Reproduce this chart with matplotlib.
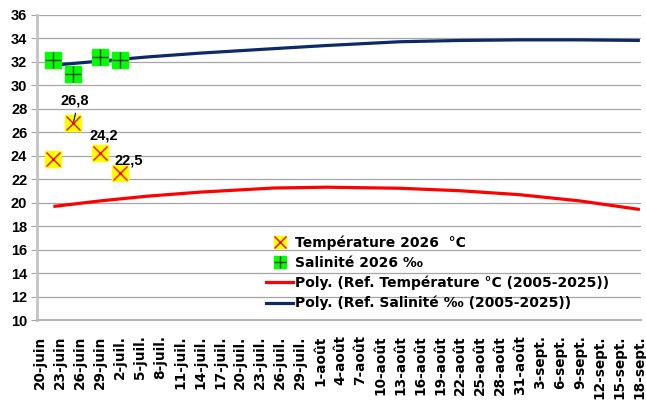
import numpy as np
import pandas as pd
import matplotlib
matplotlib.use('Agg')
import matplotlib.pyplot as plt
from matplotlib.lines import Line2D
from matplotlib.legend_handler import HandlerTuple

# ------------------------------------------------------------
# Données
# ------------------------------------------------------------
dates_mesures = ['2026-06-22', '2026-06-25', '2026-06-29', '2026-07-02']
temperature_2026 = [23.7, 26.8, 24.2, 22.5]
salinite_2026 = [32.2, 31.0, 32.4, 32.2]
etiquettes_temp = ['', '26,8', '24,2', '22,5']

# courbes de tendance (Poly.)
dates_ref = ['2026-06-22', '2026-06-29', '2026-07-06', '2026-07-14', '2026-07-25',
             '2026-08-02', '2026-08-13', '2026-08-22', '2026-08-31', '2026-09-09',
             '2026-09-18']
ref_temperature = [19.68, 20.15, 20.55, 20.90, 21.25, 21.32, 21.23, 21.02, 20.68, 20.15, 19.42]
ref_salinite = [31.72, 32.07, 32.42, 32.75, 33.13, 33.40, 33.72, 33.83, 33.88, 33.88, 33.83]

etiquettes_x = ['20-juin', '23-juin', '26-juin', '29-juin', '2-juil.', '5-juil.', '8-juil.',
                '11-juil.', '14-juil.', '17-juil.', '20-juil.', '23-juil.', '26-juil.',
                '29-juil.', '1-août', '4-août', '7-août', '10-août', '13-août', '16-août',
                '19-août', '22-août', '25-août', '28-août', '31-août', '3-sept.', '6-sept.',
                '9-sept.', '12-sept.', '15-sept.', '18-sept.']

plt.rcParams['font.family'] = ['DejaVu Sans']
plt.rcParams['font.weight'] = 'bold'
police_chiffres = {'family': ['Liberation Sans', 'DejaVu Sans'], 'weight': 'bold', 'size': 10.5}

d_mes = pd.to_datetime(dates_mesures)
d_ref = pd.to_datetime(dates_ref)
debut = pd.Timestamp('2026-06-20')
pos_x = [debut + pd.Timedelta(days=3 * i) for i in range(len(etiquettes_x))]

fig = plt.figure(figsize=(6.46, 4.05), dpi=100)
ax = fig.add_axes([37 / 646, 1 - 320 / 405, 604 / 646, 305 / 405])

# ------------------------------------------------------------
# Tracés
# ------------------------------------------------------------
ax.plot(d_ref, ref_temperature, color='#ff0000', lw=2.3, solid_capstyle='butt', zorder=3)
ax.plot(d_ref, ref_salinite, color='#0c2a66', lw=2.3, solid_capstyle='butt', zorder=3)

ax.plot(d_mes, temperature_2026, ls='none', marker='s', ms=11, mfc='#ffff00', mec='#ffff00', zorder=4)
ax.plot(d_mes, temperature_2026, ls='none', marker='x', ms=10, mec='#ff0000', mew=1.0, zorder=5)
ax.plot(d_mes, salinite_2026, ls='none', marker='s', ms=11, mfc='#00ff00', mec='#00ff00', zorder=4)
ax.plot(d_mes, salinite_2026, ls='none', marker='+', ms=11, mec='#1f3d1f', mew=1.0, zorder=5)

decalages = [(0, 0), (1, 11), (3, 8), (6, 4)]
for d, v, txt, off in zip(d_mes, temperature_2026, etiquettes_temp, decalages):
    if txt:
        ax.annotate(txt, (d, v), xytext=off, textcoords='offset points',
                    ha='center', va='bottom', fontproperties=police_chiffres, zorder=6)
# petit trait de rappel sur 26,8
ax.annotate('', (d_mes[1], temperature_2026[1]), xytext=(1.5, 7), textcoords='offset points',
            arrowprops=dict(arrowstyle='-', color='black', lw=0.8, shrinkA=0, shrinkB=1), zorder=6)

# ------------------------------------------------------------
# Axes
# ------------------------------------------------------------
ax.set_ylim(10, 36)
ax.set_yticks(np.arange(10, 37, 2))
ax.set_xlim(debut - pd.Timedelta(hours=11), pos_x[-1] + pd.Timedelta(hours=4))
ax.set_xticks(pos_x)
ax.set_xticklabels(etiquettes_x, rotation=90, fontsize=9.8, fontweight='bold')
for lab in ax.get_yticklabels():
    lab.set_fontproperties(police_chiffres)

ax.grid(axis='y', color='#a6a6a6', lw=0.9)
ax.set_axisbelow(True)
for s in ['top', 'right']:
    ax.spines[s].set_visible(False)
ax.spines['left'].set_color('#c3c3c3')
ax.spines['left'].set_linewidth(2)
ax.spines['bottom'].set_color('#b5b5b5')
ax.spines['bottom'].set_linewidth(1.5)
ax.tick_params(axis='y', length=4, color='#a6a6a6', pad=3)
ax.tick_params(axis='x', length=0, pad=11)

# ------------------------------------------------------------
# Légende
# ------------------------------------------------------------
h_temp = (Line2D([], [], ls='none', marker='s', ms=8, mfc='#ffff00', mec='#ffff00'),
          Line2D([], [], ls='none', marker='x', ms=8, mec='#ff0000', mew=1.0))
h_sal = (Line2D([], [], ls='none', marker='s', ms=8, mfc='#00ff00', mec='#00ff00'),
         Line2D([], [], ls='none', marker='+', ms=8, mec='#1f3d1f', mew=1.0))
h_rt = Line2D([], [], color='#ff0000', lw=2.3)
h_rs = Line2D([], [], color='#0c2a66', lw=2.3)
ax.legend([h_temp, h_sal, h_rt, h_rs],
          ['Température 2026  °C', 'Salinité 2026 ‰',
           'Poly. (Ref. Température °C (2005-2025))', 'Poly. (Ref. Salinité ‰ (2005-2025))'],
          handler_map={tuple: HandlerTuple(ndivide=1)},
          loc='upper left', bbox_to_anchor=(0.367, 0.3), frameon=False,
          borderpad=0, handlelength=2.0, handletextpad=0.15, labelspacing=0.42,
          prop={'weight': 'bold', 'size': 10})

fig.savefig('out.png', dpi=100)
